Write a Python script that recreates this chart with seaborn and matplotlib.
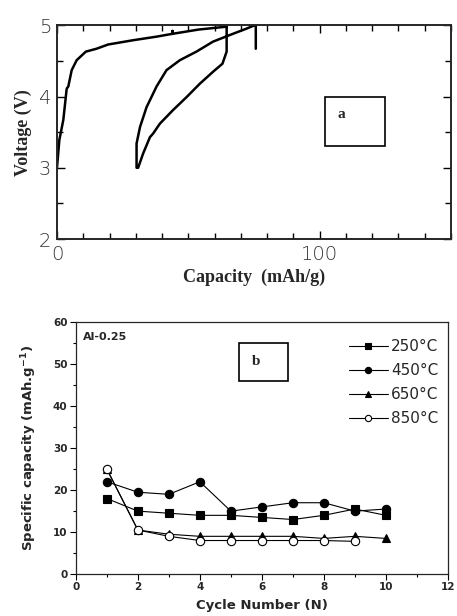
import numpy as np
import pandas as pd
import seaborn as sns
import matplotlib.pyplot as plt
from matplotlib.patches import Rectangle
from matplotlib.ticker import MultipleLocator

# panel a: charge/discharge curve (traced as one polyline)
capacity = [0, 0.9, 2.4, 3.7, 4.3, 5.6, 7.5, 11, 15, 19.5, 29, 37.9, 44, 44, 44, 54, 64.5, 64.6,
            64.6, 63, 59.5, 54.4, 49.3, 44.2, 39.2, 36.6, 35.4, 32.8, 30.9,
            30.3, 30.3, 31.6, 34.1, 37.9, 41.7, 46.8, 53.1, 59.4, 67, 72, 74.6, 75.7, 75.7]
voltage = [3.0, 3.39, 3.67, 4.11, 4.14, 4.37, 4.51, 4.63, 4.67, 4.73, 4.79, 4.84, 4.88, 4.92, 4.88, 4.94, 4.98, 5.0,
           4.63, 4.46, 4.35, 4.18, 3.99, 3.81, 3.62, 3.48, 3.43, 3.20, 3.0,
           3.0, 3.34, 3.57, 3.85, 4.14, 4.37, 4.51, 4.63, 4.77, 4.88, 4.95, 4.99, 5.0, 4.67]

# panel b: cycling
cycles = [1, 2, 3, 4, 5, 6, 7, 8, 9, 10]
cap_250 = [18, 15, 14.5, 14, 14, 13.5, 13, 14, 15.5, 14]
cap_450 = [22, 19.5, 19, 22, 15, 16, 17, 17, 15, 15.5]
cap_650 = [25, 10.5, 9.5, 9, 9, 9, 9, 8.5, 9, 8.5]
cycles_850 = [1, 2, 3, 4, 5, 6, 7, 8, 9]
cap_850 = [25, 10.5, 9, 8, 8, 8, 8, 8, 7.8]

sns.set_style("ticks")
plt.rcParams['font.family'] = ['DejaVu Sans']

fig = plt.figure(figsize=(4.57, 6.16), dpi=100)

# ---- panel a ----
ax1 = fig.add_axes([0.1247, 0.612, 0.862, 0.347])
sns.lineplot(x=capacity, y=voltage, sort=False, estimator=None, color="black", lw=1.8, ax=ax1)
ax1.set_xlim(0, 150)
ax1.set_ylim(2, 5)
ax1.set_xticks([0, 100])
ax1.xaxis.set_minor_locator(MultipleLocator(10))
ax1.set_yticks([2, 3, 4, 5])
ax1.yaxis.set_minor_locator(MultipleLocator(0.5))
ax1.tick_params(which="both", direction="in", top=True, right=True, width=1, color="black")
ax1.tick_params(which="major", length=6, labelsize=14, pad=4)
ax1.tick_params(which="minor", length=4)
for lab in ax1.get_xticklabels() + ax1.get_yticklabels():
    lab.set_fontweight("light")
    lab.set_color("#333333")
for s in ax1.spines.values():
    s.set_linewidth(1.4)
ax1.set_xlabel("Capacity  (mAh/g)", family="Liberation Serif", weight="bold", fontsize=13, labelpad=4)
ax1.set_ylabel("Voltage (V)", family="Liberation Serif", weight="bold", fontsize=13, labelpad=5)
ax1.add_patch(Rectangle((102, 3.30), 23, 0.69, fill=False, lw=1.2, ec="black"))
ax1.text(107, 3.75, "a", family="Liberation Serif", weight="bold", fontsize=11, va="center")

# ---- panel b ----
ax2 = fig.add_axes([0.166, 0.068, 0.814, 0.409])
series = [(cycles, cap_250, "s", "black", "250°C"),
          (cycles, cap_450, "o", "black", "450°C"),
          (cycles, cap_650, "^", "black", "650°C"),
          (cycles_850, cap_850, "o", "white", "850°C")]
for xs, ys, mk, fc, lab in series:
    sns.lineplot(x=xs, y=ys, marker=mk, markerfacecolor=fc, markeredgecolor="black",
                 markersize=6, markeredgewidth=0.8, color="black", lw=0.8, label=lab, ax=ax2)
ax2.set_xlim(0, 12)
ax2.set_ylim(0, 60)
ax2.xaxis.set_major_locator(MultipleLocator(2))
ax2.xaxis.set_minor_locator(MultipleLocator(1))
ax2.yaxis.set_major_locator(MultipleLocator(10))
ax2.yaxis.set_minor_locator(MultipleLocator(5))
ax2.tick_params(which="both", direction="out", width=0.8, color="black")
ax2.tick_params(which="major", length=4, labelsize=7.5, pad=2)
ax2.tick_params(which="minor", length=2)
for lab in ax2.get_xticklabels() + ax2.get_yticklabels():
    lab.set_fontweight("bold")
for s in ax2.spines.values():
    s.set_linewidth(0.9)
ax2.set_xlabel("Cycle Number (N)", weight="bold", fontsize=9.5, labelpad=5)
ax2.set_ylabel("Specific capacity (mAh.g$^{\\mathbf{-1}}$)", weight="bold", fontsize=9.5, labelpad=10)
ax2.text(0.23, 56.4, "Al-0.25", weight="bold", fontsize=8, va="center")
ax2.add_patch(Rectangle((5.26, 46), 1.58, 9, fill=False, lw=1.2, ec="black"))
ax2.text(5.68, 50.7, "b", family="Liberation Serif", weight="bold", fontsize=11, va="center")
leg = ax2.legend(loc="upper right", bbox_to_anchor=(1.0, 0.97), frameon=False, fontsize=11,
                 handlelength=2.6, handletextpad=0.2, labelspacing=0.6, borderaxespad=0.2)
for h in leg.legend_handles:
    h.set_markersize(4.5)

fig.savefig("out.png", dpi=100)
